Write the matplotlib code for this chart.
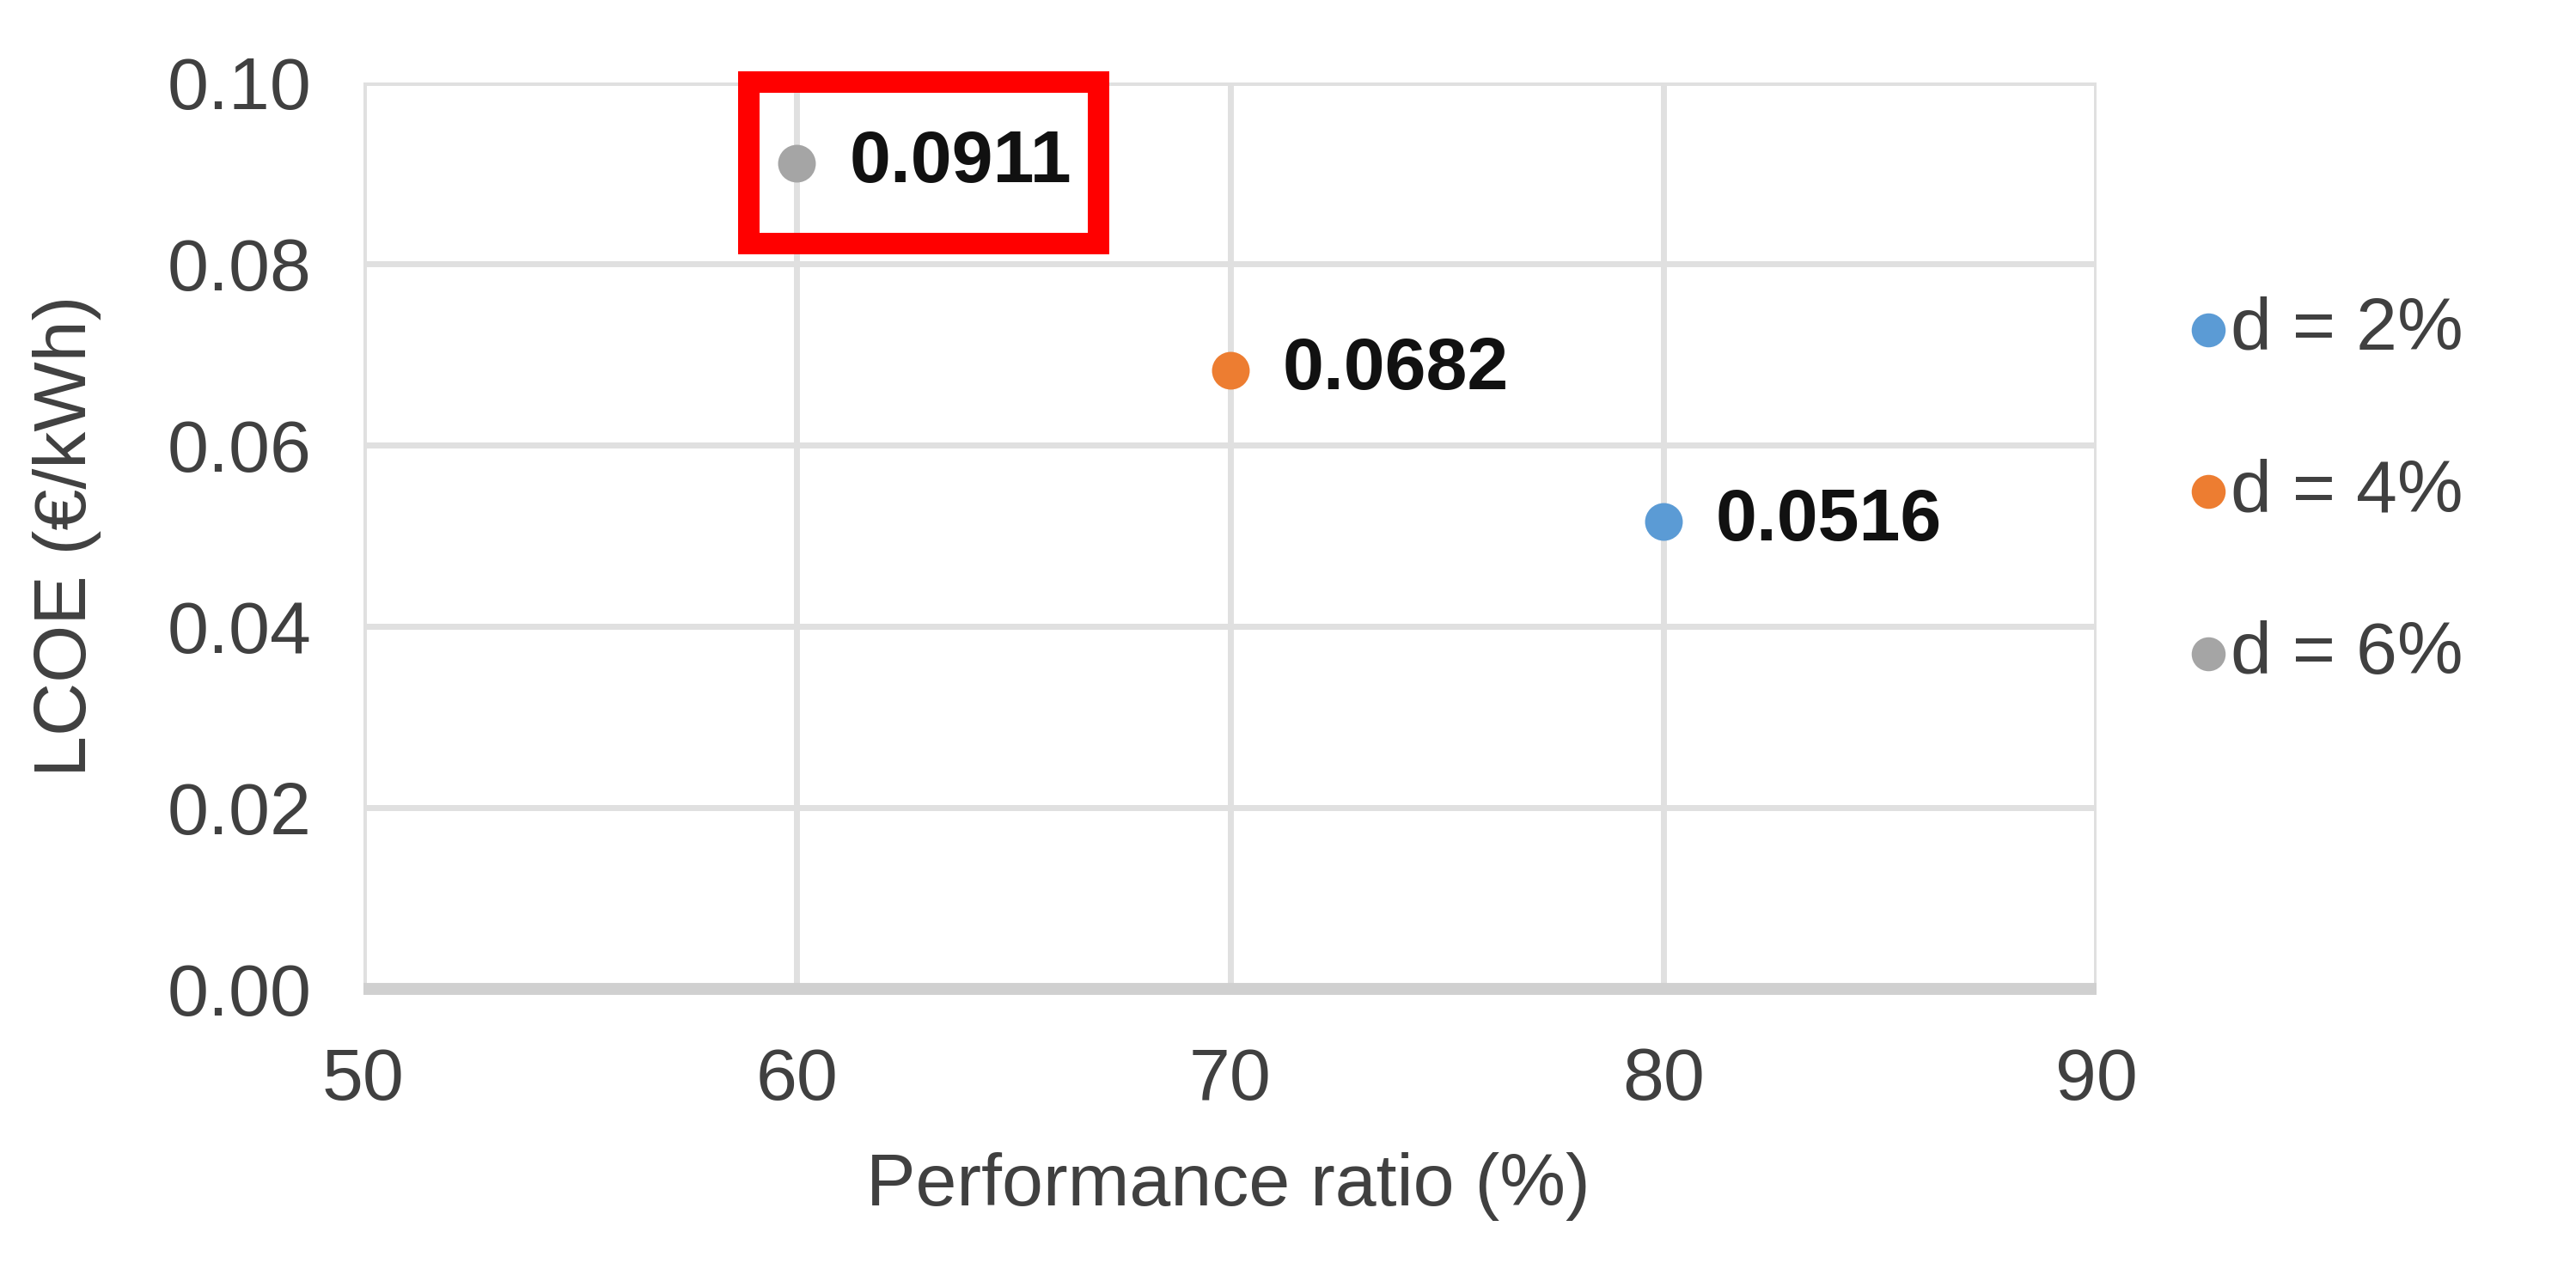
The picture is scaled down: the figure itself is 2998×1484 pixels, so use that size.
import matplotlib
matplotlib.use("Agg")
import matplotlib.pyplot as plt
from matplotlib.patches import Rectangle

# data
series_labels = ["d = 2%", "d = 4%", "d = 6%"]
perf_ratio = [80, 70, 60]
lcoe = [0.0516, 0.0682, 0.0911]
point_labels = ["0.0516", "0.0682", "0.0911"]
colors = ["#5B9BD5", "#ED7D31", "#A5A5A5"]

x_ticks = [50, 60, 70, 80, 90]
y_ticks = [0.00, 0.02, 0.04, 0.06, 0.08, 0.10]

plt.rcParams['font.family'] = ['Liberation Sans', 'DejaVu Sans']
FS = 62
TXT = "#404040"

fig = plt.figure(figsize=(29.98, 14.84), dpi=100)
ax = fig.add_axes([0.141, 0.2244, 0.673, 0.7109])

for x, y, lab, c, s in zip(perf_ratio, lcoe, series_labels, colors, point_labels):
    ax.scatter([x], [y], s=1000, color=c, label=lab, zorder=3, linewidths=0)
    ax.annotate(s, (x, y), xytext=(44, 0), textcoords="offset points",
                va="center", ha="left", fontsize=FS, fontweight="bold", color="#111111")

ax.set_xlim(50, 90)
ax.set_ylim(0, 0.10)
ax.set_xticks(x_ticks)
ax.set_yticks(y_ticks)
ax.set_yticklabels([f"{v:.2f}" for v in y_ticks])
ax.tick_params(axis="both", length=0, labelsize=FS, colors=TXT)
ax.tick_params(axis="y", pad=43)
ax.tick_params(axis="x", pad=48)

ax.grid(True, color="#E0E0E0", linewidth=5)
ax.set_axisbelow(True)
for side in ["top", "right", "left"]:
    ax.spines[side].set_visible(False)
ax.spines["bottom"].set_color("#D0D0D0")
ax.spines["bottom"].set_linewidth(10)
ax.spines["bottom"].set_capstyle("butt")

ax.set_xlabel("Performance ratio (%)", fontsize=FS, color=TXT)
ax.xaxis.set_label_coords(0.499, -0.18)
ax.set_ylabel("LCOE (€/kWh)", fontsize=FS, color=TXT)
ax.yaxis.set_label_coords(-0.151, 0.5)

# red highlight box around the d = 6% point
ax.add_patch(Rectangle((58.89, 0.08232), 66.95 - 58.89, 0.10005 - 0.08232,
                       fill=False, edgecolor="#FF0000", linewidth=18,
                       clip_on=False, zorder=5))

leg = ax.legend(loc="upper left", bbox_to_anchor=(0.840, 0.791), bbox_transform=fig.transFigure,
                frameon=False, fontsize=FS, labelspacing=1.26, handlelength=0.4,
                handletextpad=0.1, borderaxespad=0, markerscale=0.9)
for t in leg.get_texts():
    t.set_color(TXT)

fig.savefig("out.png", dpi=100)
